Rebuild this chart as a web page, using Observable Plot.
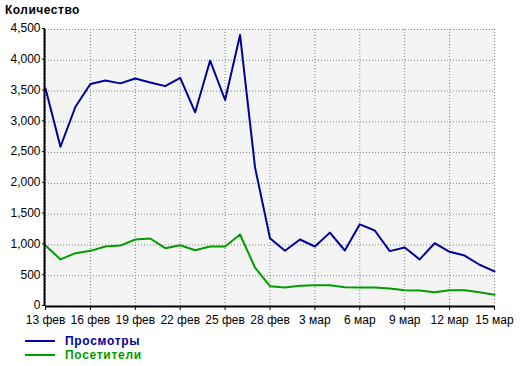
<!DOCTYPE html>
<html>
<head>
<meta charset="utf-8">
<script src="https://cdn.jsdelivr.net/npm/d3@7"></script>
<script src="https://cdn.jsdelivr.net/npm/@observablehq/plot@0.6"></script>
<style>
  html, body { margin: 0; padding: 0; background: #fff; }
  body { width: 520px; height: 366px; position: relative; overflow: hidden; font-family: "Liberation Sans", Arial, sans-serif; }
  #title { position: absolute; left: 5px; top: 3px; font-size: 12px; font-weight: bold; color: #000; letter-spacing: 0.5px; }
  #chart { position: absolute; left: 0; top: 20px; }
  .leg { position: absolute; left: 25px; height: 14px; font-size: 12px; font-weight: bold; }
  .leg .sw { position: absolute; left: 0; top: 6px; width: 30px; height: 2px; }
  .leg .tx { position: absolute; left: 40px; top: 0; white-space: nowrap; letter-spacing: 0.7px; }
</style>
</head>
<body>
<div id="title">Количество</div>
<div id="chart"></div>
<div id="legend"></div>
<script>
const dates = [
  "2011-02-13","2011-02-14","2011-02-15","2011-02-16","2011-02-17","2011-02-18","2011-02-19",
  "2011-02-20","2011-02-21","2011-02-22","2011-02-23","2011-02-24","2011-02-25","2011-02-26",
  "2011-02-27","2011-02-28","2011-03-01","2011-03-02","2011-03-03","2011-03-04","2011-03-05",
  "2011-03-06","2011-03-07","2011-03-08","2011-03-09","2011-03-10","2011-03-11","2011-03-12",
  "2011-03-13","2011-03-14","2011-03-15"
];
const views = [
  3540, 2595, 3245, 3615, 3670, 3625, 3705,
  3640, 3580, 3715, 3155, 3995, 3355, 4410,
  2260, 1110, 905, 1088, 975, 1200, 910,
  1335, 1235, 900, 958, 765, 1028, 888,
  828, 678, 570
];
const visitors = [
  990, 765, 866, 904, 975, 990, 1088,
  1105, 947, 996, 915, 975, 975, 1170,
  630, 330, 309, 336, 346, 346, 314,
  309, 309, 292, 265, 260, 233, 265,
  265, 233, 190
];
const seriesNames = ["Просмотры", "Посетители"];
const seriesColors = ["#00009c", "#009c00"];
const yTicks = [0, 500, 1000, 1500, 2000, 2500, 3000, 3500, 4000, 4500];
const xTickDates = ["2011-02-13","2011-02-16","2011-02-19","2011-02-22","2011-02-25","2011-02-28",
                    "2011-03-03","2011-03-06","2011-03-09","2011-03-12","2011-03-15"];
const xTickLabels = ["13 фев","16 фев","19 фев","22 фев","25 фев","28 фев",
                     "3 мар","6 мар","9 мар","12 мар","15 мар"];

const parse = d3.utcParse("%Y-%m-%d");
const rows = [];
dates.forEach((d, i) => {
  rows.push({date: parse(d), value: views[i], series: seriesNames[0]});
  rows.push({date: parse(d), value: visitors[i], series: seriesNames[1]});
});
const tickDates = xTickDates.map(parse);
const labelOf = new Map(tickDates.map((d, i) => [+d, xTickLabels[i]]));
const xDomain = [parse(dates[0]), parse(dates[dates.length - 1])];

const chart = Plot.plot({
  width: 520,
  height: 310,
  marginLeft: 45,
  marginRight: 26,
  marginTop: 9,
  marginBottom: 24,
  style: {fontFamily: "'Liberation Sans', Arial, sans-serif", fontSize: "12px", color: "#000", background: "transparent"},
  x: {type: "utc", domain: xDomain},
  y: {domain: [0, 4500]},
  color: {domain: seriesNames, range: seriesColors},
  marks: [
    Plot.frame({fill: "#f4f4f4", stroke: "none"}),
    Plot.gridX(tickDates, {stroke: "#808080", strokeOpacity: 1, strokeDasharray: "1,2"}),
    Plot.gridY(yTicks, {stroke: "#808080", strokeOpacity: 1, strokeDasharray: "1,2"}),
    Plot.axisX(tickDates, {tickSize: 4, tickPadding: 5, tickFormat: d => labelOf.get(+d), label: null, fontSize: 12}),
    Plot.axisY(yTicks, {tickSize: 3, tickPadding: 2, tickFormat: d3.format(","), label: null, fontSize: 12, dy: -1}),
    Plot.line(rows, {x: "date", y: "value", z: "series", stroke: "series", strokeWidth: 2, curve: "linear"}),
    Plot.ruleX([xDomain[0]], {stroke: "#000", strokeWidth: 2, dx: -1}),
    Plot.ruleY([0], {stroke: "#000", strokeWidth: 2})
  ]
});
document.getElementById("chart").appendChild(chart);

const legend = document.getElementById("legend");
seriesNames.forEach((name, i) => {
  const item = document.createElement("div");
  item.className = "leg";
  item.style.top = (334 + i * 14) + "px";
  item.style.color = seriesColors[i];
  const sw = document.createElement("span");
  sw.className = "sw";
  sw.style.background = seriesColors[i];
  const tx = document.createElement("span");
  tx.className = "tx";
  tx.textContent = name;
  item.appendChild(sw);
  item.appendChild(tx);
  legend.appendChild(item);
});
</script>
</body>
</html>
